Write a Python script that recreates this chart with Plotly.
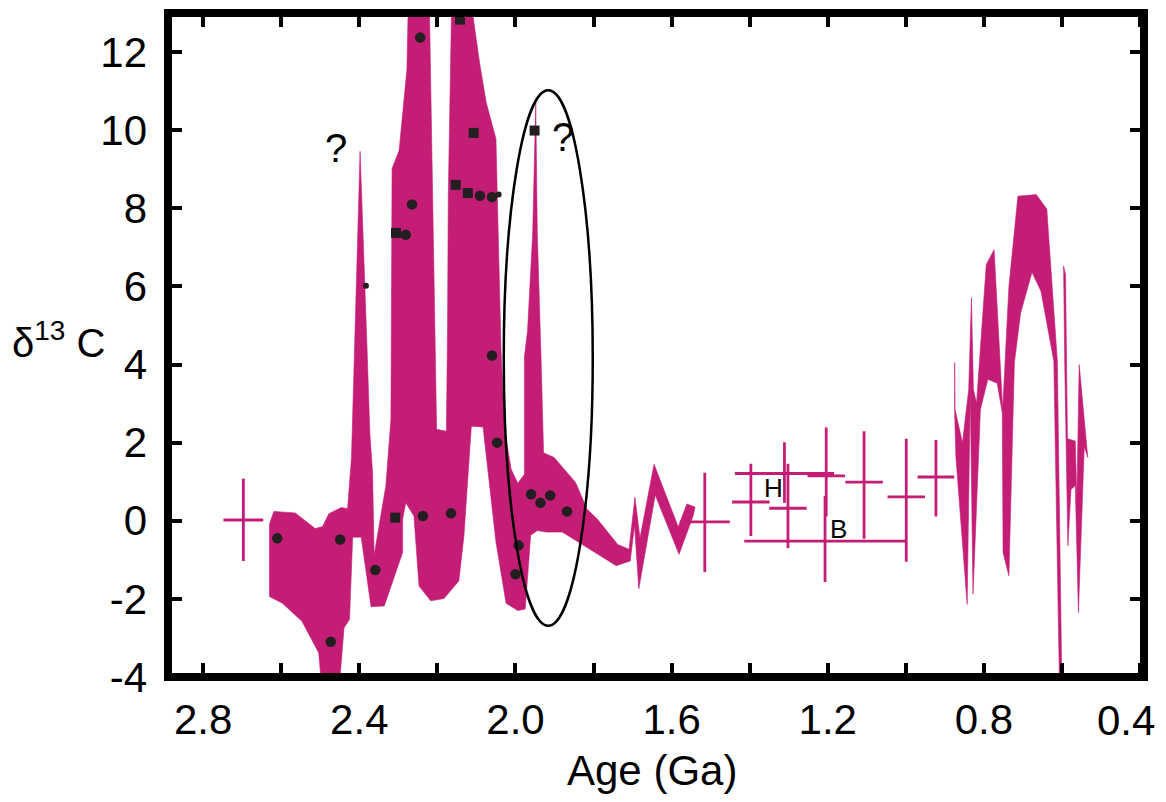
import plotly.graph_objects as go

MAGENTA = "#c41d75"
DARK = "#231f20"
FONT = "Liberation Sans, Arial, sans-serif"

# ---------------- data (Age in Ga, delta13C in permil) ----------------
# Band A: 2.63 - 1.54 Ga envelope (upper edge, then lower edge back)
bandA_upper_age = [2.630, 2.619, 2.564, 2.513, 2.494, 2.478, 2.446, 2.430, 2.420, 2.411,
                   2.398, 2.380, 2.373, 2.366, 2.362, 2.332, 2.319, 2.316, 2.298, 2.278,
                   2.274, 2.221, 2.206, 2.202, 2.177, 2.174, 2.172, 2.164, 2.163, 2.117,
                   2.092, 2.075, 2.050, 2.037, 2.028, 2.011, 1.994, 1.977, 1.977, 1.969,
                   1.956, 1.948, 1.944, 1.935, 1.928, 1.901, 1.846, 1.817, 1.791, 1.738,
                   1.709, 1.694, 1.681, 1.645, 1.583, 1.561, 1.540]
bandA_upper_d13c = [-0.08, 0.24, 0.20, -0.20, -0.15, 0.18, 0.34, 0.31, 1.62, 4.87,
                    9.46, 4.37, 2.25, 1.23, -0.88, 0.89, 2.60, 9.02, 9.48, 11.56,
                    13.5, 13.5, 4.37, 2.34, 2.29, 4.87, 8.35, 11.98, 13.5, 13.5,
                    11.73, 10.71, 9.78, 4.37, 2.34, 1.32, 0.96, 1.19, 4.20, 4.87,
                    7.33, 10.70, 7.33, 4.37, 1.74, 1.62, 0.98, 0.30, 0.05, -0.61,
                    -0.73, 0.60, -0.44, 1.45, -0.16, 0.43, 0.35]
bandA_lower_age = [1.545, 1.581, 1.642, 1.684, 1.695, 1.706, 1.742, 1.842, 1.880, 1.922,
                   1.944, 1.961, 1.975, 1.994, 2.024, 2.050, 2.083, 2.113, 2.132, 2.145,
                   2.183, 2.217, 2.247, 2.260, 2.281, 2.289, 2.289, 2.336, 2.370, 2.395,
                   2.417, 2.425, 2.439, 2.448, 2.449, 2.494, 2.504, 2.547, 2.597, 2.630]
bandA_lower_d13c = [0.12, -0.86, 0.66, -1.74, -0.12, -1.03, -1.15, -0.54, -0.29, -0.29,
                    -0.25, -0.37, -2.26, -2.30, -2.11, -0.54, 2.40, 2.42, -0.39, -1.54,
                    -1.99, -2.05, -1.67, 0.12, 0.46, 0.04, -0.81, -2.18, -2.20, -0.42,
                    -0.42, -2.52, -2.74, -3.84, -4.5, -4.5, -3.38, -2.57, -2.11, -1.94]

# Band B: 0.88 - 0.60 Ga
bandB_upper_age = [0.875, 0.874, 0.855, 0.839, 0.832, 0.827, 0.819, 0.794, 0.774, 0.752,
                   0.736, 0.713, 0.666, 0.639, 0.612, 0.600]
bandB_upper_d13c = [4.05, 2.85, 2.00, 3.36, 5.71, 3.36, 3.00, 6.56, 6.94, 2.85,
                    6.00, 8.31, 8.35, 7.98, 4.10, -4.5]
bandB_lower_age = [0.606, 0.621, 0.654, 0.677, 0.706, 0.722, 0.736, 0.751, 0.753, 0.766,
                   0.790, 0.809, 0.828, 0.835, 0.843, 0.872, 0.875]
bandB_lower_d13c = [-4.5, 4.09, 5.88, 6.36, 5.32, 4.05, -1.41, -0.81, 2.77, 3.52,
                    3.62, 2.85, -1.88, 3.28, -2.14, 1.66, 2.77]

# Band C: 0.60 - 0.53 Ga outline
bandC_age = [0.596, 0.591, 0.586, 0.566, 0.562, 0.556, 0.534, 0.543, 0.558, 0.566,
             0.577, 0.585, 0.593]
bandC_d13c = [6.52, 6.30, 2.10, 2.04, 0.50, 4.00, 1.62, 1.90, -2.35, 0.90,
              0.80, -0.64, 4.00]

# Individual measurements
dot_age = [2.610, 2.473, 2.449, 2.359, 2.281, 2.265, 2.244, 2.237, 2.165, 2.091,
           2.060, 2.060, 2.047, 2.000, 1.992, 1.960, 1.936, 1.911, 1.868]
dot_d13c = [-0.45, -3.10, -0.48, -1.26, 7.32, 8.10, 12.37, 0.12, 0.19, 8.32,
            8.29, 4.23, 2.00, -1.37, -0.63, 0.68, 0.46, 0.65, 0.24]
edge_dot_age = [2.383, 2.043]
edge_dot_d13c = [6.02, 8.35]
square_age = [2.306, 2.308, 2.153, 2.122, 2.142, 2.107, 1.951]
square_d13c = [7.37, 0.08, 8.60, 8.39, 12.83, 9.93, 9.99]

# Mesoproterozoic estimates with uncertainty crosses
cross_age = [2.697, 1.515, 1.397, 1.311, 1.302, 1.204, 1.207, 1.107, 0.999, 0.923]
cross_d13c = [0.02, -0.03, 0.48, 1.21, 0.32, 1.15, -0.52, 0.99, 0.61, 1.12]
cross_age_err = [0.051, 0.064, 0.048, 0.127, 0.048, 0.048, 0.207, 0.048, 0.048, 0.047]
cross_d13c_plus = [1.06, 1.26, 0.98, 0.80, 1.14, 1.24, 1.15, 1.30, 1.49, 0.95]
cross_d13c_minus = [1.05, 1.28, 0.87, 0.75, 1.02, 1.04, 1.05, 1.45, 1.66, 1.01]

# Highlight ellipse extent
ellipse_age = [2.030, 1.802]
ellipse_d13c = [-2.69, 11.02]

x_label_ticks = [2.8, 2.4, 2.0, 1.6, 1.2, 0.8]
x_label_text = ["2.8", "2.4", "2.0", "1.6", "1.2", "0.8"]
x_minor_ticks = [2.6, 2.2, 1.8, 1.4, 1.0, 0.6, 0.4]
x_last_label = "0.4"
y_ticks = [-4, -2, 0, 2, 4, 6, 8, 10, 12]
y_ticklabels = ["-4", "-2", "0", "2", "4", "6", "8", "10", "12"]

# ---------------- figure ----------------
fig = go.Figure()


def add_band(xs, ys):
    fig.add_trace(go.Scatter(
        x=xs + [xs[0]], y=ys + [ys[0]], mode="lines", fill="toself",
        fillcolor=MAGENTA, line=dict(color=MAGENTA, width=0.6),
        hoverinfo="skip", showlegend=False))


add_band(bandA_upper_age + bandA_lower_age, bandA_upper_d13c + bandA_lower_d13c)
add_band(bandB_upper_age + bandB_lower_age, bandB_upper_d13c + bandB_lower_d13c)
add_band(bandC_age, bandC_d13c)

fig.add_trace(go.Scatter(
    x=cross_age, y=cross_d13c, mode="markers",
    marker=dict(size=1, color=MAGENTA, opacity=0),
    error_x=dict(type="data", array=cross_age_err, color=MAGENTA, thickness=2.8, width=0),
    error_y=dict(type="data", symmetric=False, array=cross_d13c_plus,
                 arrayminus=cross_d13c_minus, color=MAGENTA, thickness=2.8, width=0),
    hoverinfo="skip", showlegend=False))

fig.add_trace(go.Scatter(
    x=dot_age, y=dot_d13c, mode="markers",
    marker=dict(symbol="circle", size=10.5, color=DARK),
    showlegend=False))
fig.add_trace(go.Scatter(
    x=edge_dot_age, y=edge_dot_d13c, mode="markers",
    marker=dict(symbol="circle", size=6, color=DARK),
    showlegend=False))
fig.add_trace(go.Scatter(
    x=square_age, y=square_d13c, mode="markers",
    marker=dict(symbol="square", size=10, color=DARK),
    showlegend=False))

fig.add_shape(type="circle", xref="x", yref="y",
              x0=ellipse_age[0], x1=ellipse_age[1],
              y0=ellipse_d13c[0], y1=ellipse_d13c[1],
              line=dict(color="black", width=2.5), layer="above")

# frame
fig.add_shape(type="rect", xref="paper", yref="paper", x0=0, x1=1, y0=0, y1=1,
              line=dict(color="black", width=8), layer="above")

annots = [
    dict(x=2.459, y=9.54, text="?", size=40),
    dict(x=1.879, y=9.83, text="?", size=40),
    dict(x=1.339, y=0.85, text="H", size=26),
    dict(x=1.172, y=-0.22, text="B", size=26),
]
for a in annots:
    fig.add_annotation(x=a["x"], y=a["y"], xref="x", yref="y", text=a["text"],
                       showarrow=False, xanchor="center", yanchor="middle",
                       font=dict(family=FONT, color="black", size=a["size"]))

# last x tick label (sits at the right edge of the frame)
fig.add_annotation(x=1.0135, y=-0.066, xref="paper", yref="paper",
                   text=x_last_label, showarrow=False, xanchor="right", yanchor="middle",
                   font=dict(family=FONT, size=42, color="black"))

fig.add_annotation(x=-0.162, y=0.508, xref="paper", yref="paper",
                   text="δ<sup>13</sup> C", showarrow=False,
                   xanchor="left", yanchor="middle",
                   font=dict(family=FONT, size=40, color="black"))
fig.add_annotation(x=0.496, y=-0.141, xref="paper", yref="paper",
                   text="Age (Ga)", showarrow=False,
                   xanchor="center", yanchor="middle",
                   font=dict(family=FONT, size=42, color="black"))

fig.update_xaxes(range=[2.89, 0.39], tickvals=x_label_ticks, ticktext=x_label_text,
                 ticks="inside", ticklen=14, tickwidth=4, tickcolor="black",
                 minor=dict(tickvals=x_minor_ticks, ticks="inside", ticklen=14,
                            tickwidth=4, tickcolor="black", showgrid=False),
                 mirror="ticks", showline=False, showgrid=False, zeroline=False,
                 tickfont=dict(family=FONT, size=42, color="black"),
                 ticklabelstandoff=14)
fig.update_yaxes(range=[-4, 13.0], tickvals=y_ticks, ticktext=y_ticklabels,
                 ticks="inside", ticklen=14, tickwidth=4, tickcolor="black",
                 mirror="ticks", showline=False, showgrid=False, zeroline=False,
                 tickfont=dict(family=FONT, size=42, color="black"),
                 ticklabelstandoff=20)

fig.update_layout(width=1150, height=786,
                  margin=dict(l=160, r=14, t=5, b=117),
                  plot_bgcolor="white", paper_bgcolor="white",
                  showlegend=False)

fig.write_html("out.html")
